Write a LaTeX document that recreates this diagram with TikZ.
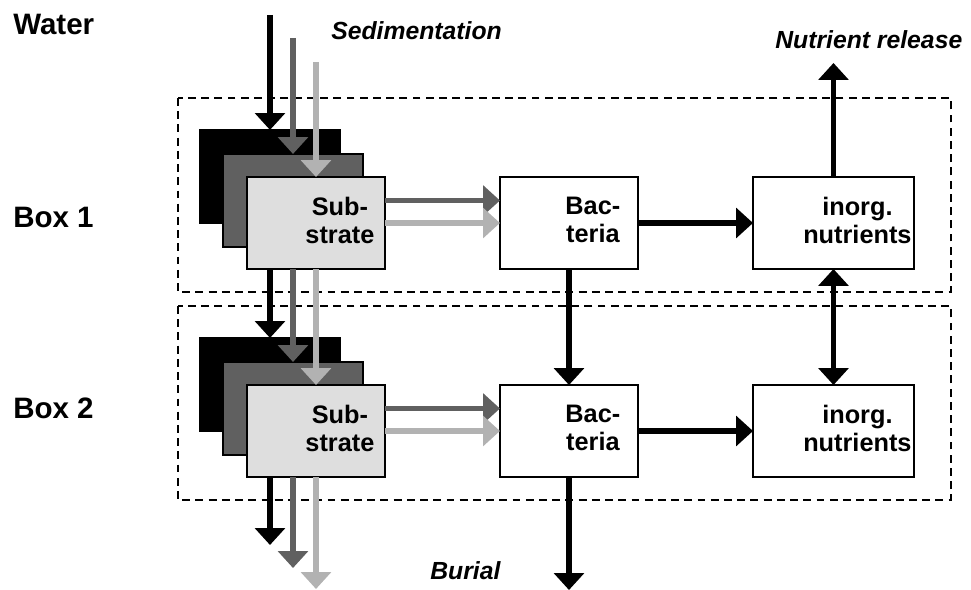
\documentclass[tikz,border=0pt]{standalone}
\usepackage{fontspec}
\setmainfont{Liberation Sans}
\usetikzlibrary{arrows.meta}

\definecolor{seddark}{RGB}{96,96,96}
\definecolor{sedlight}{RGB}{178,178,178}
\definecolor{subfill}{RGB}{222,222,222}

\tikzset{
	layer/.style={rectangle,draw=black,line width=0.9pt,minimum width=99.6pt,minimum height=66.2pt,inner sep=0pt,outer sep=0pt},
	pool/.style={rectangle,draw=black,line width=0.9pt,fill=white,minimum height=65.4pt,inner sep=0pt,outer sep=0pt},
	pooltext/.style={font=\fontsize{18}{20}\selectfont\bfseries,align=center,inner sep=0pt,xshift=17pt,yshift=2pt},
	frame/.style={line width=1.6pt,dash pattern=on 5.6pt off 3.8pt},
	flow/.style={line width=4.2pt,-{Triangle[length=12pt,width=21pt]}},
	both/.style={line width=4.2pt,{Triangle[length=12pt,width=21pt]}-{Triangle[length=12pt,width=21pt]}},
	side/.style={font=\fontsize{21}{24}\selectfont\bfseries,inner sep=0pt,anchor=base west},
	flux/.style={font=\fontsize{17.6}{20}\selectfont\bfseries\itshape,inner sep=0pt,anchor=base west}
}

\begin{document}
\begin{tikzpicture}[x=0.7113pt,y=-0.7113pt]
	\useasboundingbox (0,0) rectangle (971,590);
%	\draw[help lines,step=50] (0,0) grid (971,590);
	\path (270,15) coordinate (sedblk);
	\path (293,38) coordinate (seddrk);
	\path (316,62) coordinate (sedlgt);
	\path (833.5,63) coordinate (release);

	\path (270,545) coordinate (burblk);
	\path (293,568) coordinate (burdrk);
	\path (316,589) coordinate (burlgt);
	\path (569,590) coordinate (burial);

	% the two boxes
	\draw[frame] (178,98) rectangle (951,292);
	\draw[frame] (178,306) rectangle (951,500);

	% box 1
	\node[layer,fill=black] (blk1) at (270,176.5) {};
	\node[layer,fill=seddark] (drk1) at (293,200.5) {};
	\node[layer,fill=subfill,minimum width=98.2pt,minimum height=65.4pt,
		label={[pooltext]center:{Sub-\\strate}}] (sub1) at (316,223) {};
	\node[pool,minimum width=98.2pt,label={[pooltext]center:{Bac-\\teria}}] (bac1) at (569,223) {};
	\node[pool,minimum width=114.5pt,label={[pooltext]center:{inorg.\\nutrients}}] (nut1) at (833.5,223) {};

	% box 2
	\node[layer,fill=black] (blk2) at (270,384.5) {};
	\node[layer,fill=seddark] (drk2) at (293,408.5) {};
	\node[layer,fill=subfill,minimum width=98.2pt,minimum height=65.4pt,
		label={[pooltext]center:{Sub-\\strate}}] (sub2) at (316,431) {};
	\node[pool,minimum width=98.2pt,label={[pooltext]center:{Bac-\\teria}}] (bac2) at (569,431) {};
	\node[pool,minimum width=114.5pt,label={[pooltext]center:{inorg.\\nutrients}}] (nut2) at (833.5,431) {};

	% labels
	\node[side] (water) at (13,35) {Water};
	\node[side] (box1) at (13,228) {Box 1};
	\node[side] (box2) at (13,418) {Box 2};
	\node[flux] (sedlbl) at (331,40) {Sedimentation};
	\node[flux] (rellbl) at (775,49) {Nutrient release};
	\node[flux] (burlbl) at (430,579) {Burial};

	% sedimentation
	\draw[flow,black] (sedblk) -- (blk1.north);
	\draw[flow,seddark] (seddrk) -- (drk1.north);
	\draw[flow,sedlight] (sedlgt) -- (sub1.north);

	% box 1 -> box 2
	\draw[flow,black] (sub1.south -| blk1) -- (blk2.north);
	\draw[flow,seddark] (sub1.south -| drk1) -- (drk2.north);
	\draw[flow,sedlight] (sub1.south) -- (sub2.north);

	% burial of substrate
	\draw[flow,black] (sub2.south -| blk2) -- (burblk);
	\draw[flow,seddark] (sub2.south -| drk2) -- (burdrk);
	\draw[flow,sedlight] (sub2.south) -- (burlgt);

	% uptake and mineralisation
	\draw[flow,seddark] (sub1.east |- drk1) -- (bac1.west |- drk1);
	\draw[flow,sedlight] (sub1.east) -- (bac1.west);
	\draw[flow] (bac1.east) -- (nut1.west);
	\draw[flow,seddark] (sub2.east |- drk2) -- (bac2.west |- drk2);
	\draw[flow,sedlight] (sub2.east) -- (bac2.west);
	\draw[flow] (bac2.east) -- (nut2.west);

	\draw[flow] (bac1.south) -- (bac2.north);
	\draw[flow] (bac2.south) -- (burial);
	\draw[flow] (nut1.north) -- (release);
	\draw[both] (nut1.south) -- (nut2.north);
\end{tikzpicture}
\end{document}
